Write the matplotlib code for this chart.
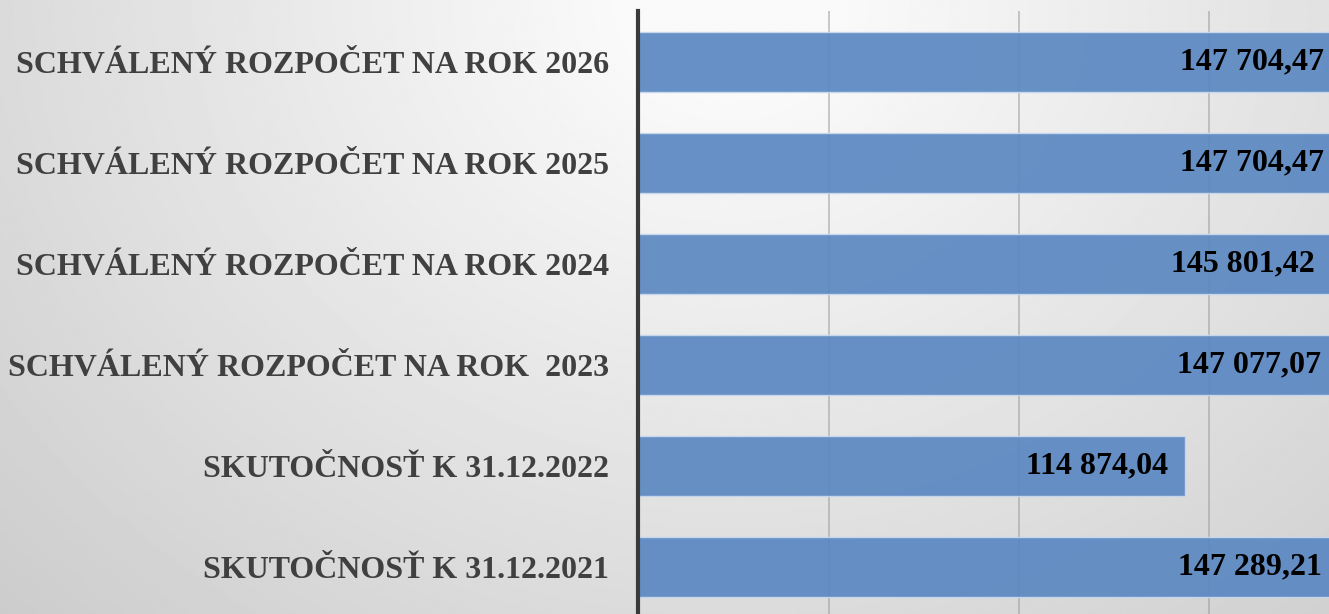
import matplotlib
matplotlib.use('Agg')
import matplotlib.pyplot as plt
import numpy as np

# data
categories = ['SKUTOČNOSŤ K 31.12.2021', 'SKUTOČNOSŤ K 31.12.2022',
              'SCHVÁLENÝ ROZPOČET NA ROK  2023', 'SCHVÁLENÝ ROZPOČET NA ROK 2024',
              'SCHVÁLENÝ ROZPOČET NA ROK 2025', 'SCHVÁLENÝ ROZPOČET NA ROK 2026']
values = [147289.21, 114874.04, 147077.07, 145801.42, 147704.47, 147704.47]
labels = ['147 289,21', '114 874,04', '147 077,07', '145 801,42', '147 704,47', '147 704,47']

plt.rcParams['font.family'] = ['Liberation Serif', 'DejaVu Serif']

fig = plt.figure(figsize=(13.29, 6.14), dpi=100)

# background gradient
bg = fig.add_axes([0, 0, 1, 1], zorder=-1)
yy, xx = np.mgrid[0:1:300j, 0:1:600j]
r = np.sqrt(((xx - 0.55) * 1.3) ** 2 + (yy * 0.7) ** 2)
shade = np.clip(1.0 - 0.2 * r, 0.79, 0.98)
bg.imshow(shade, cmap='gray', vmin=0, vmax=1, extent=[0, 1, 0, 1],
          aspect='auto', origin='upper')
bg.axis('off')

ax = fig.add_axes([0.4804, -0.0057, 0.5196, 0.987])
ax.patch.set_alpha(0)

y = np.arange(len(categories))
ax.barh(y, values, height=0.594, color='#5b88c2', alpha=0.92,
        edgecolor='#c9d9ee', linewidth=1, zorder=2)

for yi, v, lab in zip(y, values, labels):
    ax.text(v - 3600, yi, lab, ha='right', va='center', fontsize=23,
            fontweight='bold', color='black', zorder=3)

ax.set_xlim(0, 145160)
ax.set_ylim(-0.5, 5.5)
ax.set_xticks([40000, 80000, 120000])
ax.xaxis.grid(True, color='#999999', alpha=0.6, linewidth=1.2, zorder=1)
ax.set_axisbelow(True)
ax.tick_params(axis='x', length=0, labelbottom=False)

ax.set_yticks(y)
ax.set_yticklabels(categories, fontsize=23, fontweight='bold', color='#404040')
ax.tick_params(axis='y', length=0, pad=21)

for s in ['top', 'right', 'bottom']:
    ax.spines[s].set_visible(False)
ax.spines['left'].set_color('#3a3a3a')
ax.spines['left'].set_linewidth(3)

fig.savefig('out.png', dpi=100)
